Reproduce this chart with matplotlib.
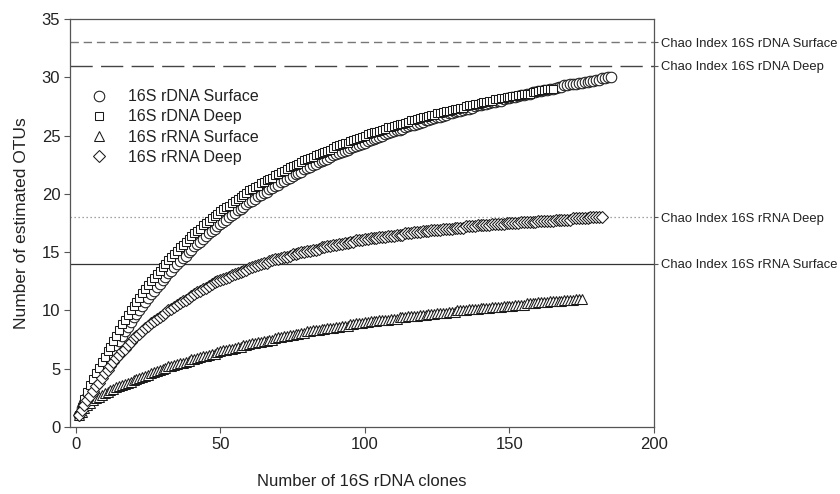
import numpy as np
import matplotlib
matplotlib.use("Agg")
import matplotlib.pyplot as plt

plt.rcParams['font.family'] = ['Liberation Sans', 'DejaVu Sans']

# ---- data (estimated OTUs per number of clones, clone count = 1..N) ----
rdna_surface = [1.0,1.6,2.1,2.6,3.1,3.6,4.0,4.5,4.9,5.4,5.8,6.2,6.6,7.0,7.4,
    7.8,8.2,8.6,9.0,9.4, 9.7,10.0,10.4,10.7,11.1, 11.4,11.7,12.0,12.3,12.6,
    12.9,13.2,13.4,13.7,14.0, 14.2,14.5,14.7,15.0,15.2, 15.5,15.7,15.9,16.1,16.4,
    16.6,16.8,17.0,17.2,17.4, 17.6,17.8,18.0,18.2,18.4, 18.6,18.7,18.9,19.1,19.3,
    19.4,19.6,19.8,19.9,20.1, 20.2,20.4,20.5,20.7,20.8, 21.0,21.1,21.3,21.4,21.5,
    21.7,21.8,21.9,22.1,22.2, 22.3,22.5,22.6,22.7,22.8, 22.9,23.0,23.2,23.3,23.4,
    23.5,23.6,23.7,23.8,23.9, 24.0,24.1,24.2,24.3,24.4,
    24.5,24.6,24.7,24.8,24.9,25.0,25.1,25.2,25.3,25.4,
    25.5,25.5,25.6,25.7,25.8,25.9,25.9,26.0,26.1,26.2,
    26.3,26.3,26.4,26.5,26.6,26.6,26.7,26.8,26.9,26.9,
    27.0,27.1,27.1,27.2,27.3,27.3,27.4,27.5,27.6,27.6,
    27.7,27.7,27.8,27.9,27.9,28.0,28.0,28.1,28.2,28.2,
    28.3,28.3,28.4,28.5,28.5,28.6,28.6,28.7,28.7,28.8,
    28.8,28.9,28.9,29.0,29.0,29.1,29.2,29.2,29.3,29.3,
    29.4,29.4,29.4,29.5,29.5,29.6,29.6,29.7,29.7,29.8,
    29.8,29.9,29.9,30.0,30.0]

rdna_deep = [1.0,1.7,2.4,3.0,3.6,4.1,4.6,5.1,5.6,6.0,6.5,6.9,7.4,7.8,8.3,
    8.8,9.2,9.6,10.0,10.4, 10.7,11.1,11.5,11.8,12.2, 12.5,12.8,13.1,13.4,13.7,
    14.0,14.3,14.6,14.8,15.1, 15.4,15.6,15.9,16.1,16.4, 16.6,16.8,17.0,17.3,17.5,
    17.7,17.9,18.1,18.3,18.5, 18.7,18.9,19.0,19.2,19.4, 19.6,19.7,19.9,20.1,20.3,
    20.4,20.6,20.7,20.9,21.0, 21.2,21.3,21.4,21.6,21.7, 21.9,22.0,22.1,22.3,22.4,
    22.5,22.6,22.7,22.9,23.0, 23.1,23.2,23.3,23.4,23.5, 23.6,23.7,23.8,23.9,24.1,
    24.2,24.3,24.4,24.4,24.5, 24.6,24.7,24.8,24.9,25.0,
    25.1,25.2,25.3,25.3,25.4,25.5,25.6,25.7,25.7,25.8,
    25.9,26.0,26.0,26.1,26.2,26.3,26.3,26.4,26.5,26.6,
    26.6,26.7,26.8,26.8,26.9,26.9,27.0,27.1,27.1,27.2,
    27.3,27.3,27.4,27.4,27.5,27.6,27.6,27.7,27.7,27.8,
    27.9,27.9,28.0,28.0,28.1,28.1,28.2,28.2,28.3,28.3,
    28.4,28.4,28.5,28.5,28.6,28.6,28.6,28.7,28.7,28.8,
    28.9,28.9,29.0,29.0,29.0]

rrna_surface = [1.0,1.3,1.6,1.9,2.1,2.3,2.45,2.6,2.75,2.9,
    3.0,3.15,3.25,3.4,3.5,3.6,3.7,3.8,3.9,4.0,
    4.1,4.2,4.3,4.4,4.5,4.6,4.7,4.8,4.9,5.0,
    5.1,5.2,5.2,5.3,5.4,5.5,5.5,5.6,5.7,5.8,
    5.8,5.9,6.0,6.1,6.1,6.2,6.3,6.3,6.4,6.5,
    6.6,6.6,6.7,6.7,6.8,6.9,6.9,7.0,7.0,7.1,
    7.2,7.2,7.3,7.3,7.4,7.4,7.5,7.5,7.6,7.7,
    7.7,7.8,7.8,7.9,7.9,8.0,8.0,8.1,8.1,8.2,
    8.2,8.3,8.3,8.3,8.4,8.4,8.5,8.5,8.5,8.6,
    8.6,8.7,8.7,8.7,8.8,8.8,8.9,8.9,8.9,9.0,
    9.0,9.1,9.1,9.1,9.2,9.2,9.2,9.2,9.3,9.3,
    9.3,9.4,9.4,9.4,9.5,9.5,9.5,9.5,9.6,9.6,
    9.6,9.7,9.7,9.7,9.8,9.8,9.8,9.8,9.9,9.9,
    9.9,10.0,10.0,10.0,10.0,10.1,10.1,10.1,10.1,10.2,
    10.2,10.2,10.2,10.3,10.3,10.3,10.3,10.4,10.4,10.4,
    10.4,10.5,10.5,10.5,10.5,10.6,10.6,10.6,10.6,10.7,
    10.7,10.7,10.7,10.8,10.8,10.8,10.8,10.8,10.9,10.9,
    10.9,10.9,11.0,11.0,11.0]

rrna_deep = [1.0,1.5,1.9,2.3,2.7,3.1,3.5,3.8,4.2,4.6,
    4.9,5.2,5.6,5.9,6.2, 6.5,6.7,7.0,7.3,7.6, 7.8,8.0,8.2,8.5,8.7,
    8.9,9.1,9.3,9.4,9.6, 9.8,10.0,10.1,10.3,10.5, 10.6,10.8,10.9,11.1,11.2,
    11.4,11.6,11.7,11.8,11.9, 12.1,12.3,12.4,12.5,12.6, 12.7,12.8,12.9,13.0,13.1,
    13.2,13.3,13.4,13.5,13.6, 13.7,13.8,13.9,14.0,14.1, 14.1,14.2,14.3,14.4,14.4,
    14.5,14.6,14.6,14.7,14.8, 14.8,14.9,15.0,15.0,15.1, 15.1,15.2,15.2,15.3,15.4,
    15.4,15.5,15.5,15.6,15.6, 15.7,15.7,15.8,15.8,15.9, 15.9,16.0,16.0,16.0,16.1,
    16.1,16.2,16.2,16.2,16.3,16.3,16.3,16.4,16.4,16.4,
    16.5,16.5,16.5,16.6,16.6,16.6,16.7,16.7,16.7,16.8,
    16.8,16.8,16.9,16.9,16.9,16.9,17.0,17.0,17.0,17.0,
    17.1,17.1,17.1,17.1,17.2,17.2,17.2,17.2,17.3,17.3,
    17.3,17.3,17.3,17.4,17.4,17.4,17.4,17.4,17.5,17.5,
    17.5,17.5,17.5,17.6,17.6,17.6,17.6,17.6,17.6,17.7,
    17.7,17.7,17.7,17.7,17.7,17.8,17.8,17.8,17.8,17.8,
    17.8,17.9,17.9,17.9,17.9,17.9,17.9,18.0,18.0,18.0,
    18.0,18.0]

series_labels = ["16S rDNA Surface", "16S rDNA Deep", "16S rRNA Surface", "16S rRNA Deep"]
chao_values = [33, 31, 18, 14]
chao_labels = ["Chao Index 16S rDNA Surface", "Chao Index 16S rDNA Deep",
               "Chao Index 16S rRNA Deep", "Chao Index 16S rRNA Surface"]

# ---- figure ----
fig = plt.figure(figsize=(8.4, 4.94), dpi=100)
ax = fig.add_axes([70/840, 1-427/494, (654-70)/840, (427-19)/494])

spine_col = "#555555"
text_col = "#222222"

# Chao reference lines
line_styles = [dict(color="#777777", lw=1.0, dashes=(6, 3.5)),
               dict(color="#444444", lw=1.0, dashes=(16, 6)),
               dict(color="#888888", lw=0.9, dashes=(1, 2.2)),
               dict(color="#333333", lw=0.9, linestyle="-")]
for v, st in zip(chao_values, line_styles):
    ax.axhline(v, zorder=1, **st)

mk = dict(markerfacecolor="white", markeredgecolor="#1a1a1a", markeredgewidth=0.75,
          linestyle="none")
series = [rdna_surface, rdna_deep, rrna_surface, rrna_deep]
markers = [("o", 7.6), ("s", 6.4), ("^", 7.6), ("D", 6.6)]
for vals, (m, s), lab in zip(series, markers, series_labels):
    x = np.arange(1, len(vals) + 1)
    ax.plot(x, vals, marker=m, markersize=s, label=lab, zorder=3, **mk)

ax.set_xlim(-2, 200)
ax.set_ylim(0, 35)
ax.set_xticks([0, 50, 100, 150, 200])
ax.set_yticks([0, 5, 10, 15, 20, 25, 30, 35])
ax.tick_params(axis="both", direction="out", length=4, width=0.8, color=spine_col,
               labelsize=12, labelcolor=text_col, pad=3)
for sp in ax.spines.values():
    sp.set_color(spine_col)
    sp.set_linewidth(0.9)

ax.set_xlabel("Number of 16S rDNA clones", fontsize=12, color=text_col, labelpad=16)
ax.set_ylabel("Number of estimated OTUs", fontsize=12.5, color=text_col, labelpad=9)

# right-side labels for Chao indices
ax2 = ax.twinx()
ax2.set_ylim(ax.get_ylim())
ax2.set_yticks(chao_values)
ax2.set_yticklabels(chao_labels)
ax2.tick_params(axis="y", direction="out", length=3, width=0.8, color=spine_col,
                labelsize=9.4, labelcolor=text_col, pad=2)
for sp in ax2.spines.values():
    sp.set_visible(False)

leg = ax.legend(loc="upper left", bbox_to_anchor=(0.036, 0.828), frameon=False,
                fontsize=11.5, handlelength=1.0, handletextpad=1.3,
                labelspacing=0.33, borderpad=0, borderaxespad=0)
for t in leg.get_texts():
    t.set_color(text_col)

fig.savefig("out.png", dpi=100)
